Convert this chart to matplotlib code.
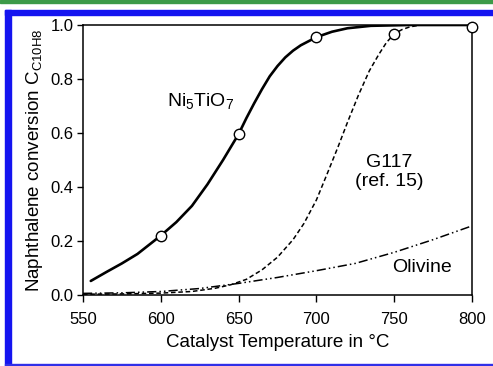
import matplotlib
matplotlib.use("Agg")
import matplotlib.pyplot as plt
from matplotlib.patches import Rectangle

plt.rcParams['font.family'] = ['Liberation Sans', 'DejaVu Sans']
plt.rcParams['mathtext.fontset'] = 'custom'
plt.rcParams['mathtext.rm'] = 'Liberation Sans'
plt.rcParams['mathtext.it'] = 'Liberation Sans'

# Ni5TiO7 curve
ni_T = [555, 565, 575, 585, 600, 610, 620, 630, 640, 650, 655, 660, 665, 670, 675, 680, 685, 690,
        700, 710, 720, 735, 760, 800]
ni_v = [0.052, 0.085, 0.117, 0.152, 0.220, 0.270, 0.330, 0.410, 0.500, 0.596, 0.655, 0.710, 0.762,
        0.810, 0.848, 0.880, 0.905, 0.925, 0.955, 0.975, 0.988, 0.997, 1.0, 1.0]

# G117 (ref. 15) curve
g_T = [550, 575, 600, 620, 635, 645, 655, 665, 675, 685, 692, 700, 707, 714, 720, 727, 734, 740, 745, 750,
       755, 760, 767, 800]
g_v = [0.003, 0.004, 0.007, 0.013, 0.025, 0.038, 0.058, 0.093, 0.140, 0.205, 0.265, 0.352, 0.450, 0.550,
       0.640, 0.740, 0.830, 0.890, 0.935, 0.967, 0.983, 0.993, 1.0, 1.0]

# Olivine curve
ol_T = [550, 575, 600, 625, 650, 675, 700, 725, 750, 775, 800]
ol_v = [0.006, 0.008, 0.013, 0.024, 0.043, 0.065, 0.090, 0.117, 0.158, 0.205, 0.256]

# measured points (markers)
mk_T = [600, 650, 700, 750, 800]
mk_v = [0.22, 0.596, 0.955, 0.967, 0.993]

x_ticks = [550, 600, 650, 700, 750, 800]
y_ticks = [0.0, 0.2, 0.4, 0.6, 0.8, 1.0]

fig = plt.figure(figsize=(4.93, 3.66), dpi=100)
W, H = 493, 366

# decorations (page frame)
def px_rect(x0, y0, x1, y1, color):
    fig.patches.append(Rectangle((x0 / W, 1 - y1 / H), (x1 - x0) / W, (y1 - y0) / H,
                                 transform=fig.transFigure, color=color, zorder=0))
px_rect(0, 0, 493, 2.5, '#3c9a48')
px_rect(5, 10, 493, 15, '#1414f0')
px_rect(5, 10, 10.7, 366, '#1414f0')
px_rect(5, 363.5, 493, 365, '#3030e8')

ax = fig.add_axes([83 / W, 1 - 295 / H, (472 - 83) / W, (295 - 25) / H])

ax.plot(ni_T, ni_v, color='black', lw=1.9, solid_capstyle='round', solid_joinstyle='round')
ax.plot(g_T, g_v, color='black', lw=1.1, dashes=(3, 1.8))
ax.plot(ol_T, ol_v, color='black', lw=1.1, dashes=(6, 2, 1, 2, 1, 2))
ax.plot(mk_T, mk_v, linestyle='none', marker='o', ms=7.5, mfc='white', mec='black',
        mew=1.0, clip_on=False, zorder=5)

ax.set_xlim(550, 800)
ax.set_ylim(0, 1.0)
ax.set_xticks(x_ticks)
ax.set_yticks(y_ticks)
ax.set_yticklabels([f'{v:.1f}' for v in y_ticks])
ax.tick_params(axis='x', direction='out', length=5, width=1.0, pad=7, labelsize=12)
ax.tick_params(axis='y', direction='out', length=4, width=1.0, pad=3, labelsize=12)
for s in ax.spines.values():
    s.set_linewidth(1.1)

ax.set_xlabel('Catalyst Temperature in °C', fontsize=13.5, labelpad=5)
ax.set_ylabel(r'Naphthalene conversion C$_{\mathregular{C10H8}}$', fontsize=13.5, labelpad=4)

ax.text(625.8, 0.719, r'Ni$_{5}$TiO$_{7}$', fontsize=14, ha='center', va='center')
ax.text(746.7, 0.456, 'G117\n(ref. 15)', fontsize=14, ha='center', va='center', linespacing=1.1)
ax.text(767.9, 0.100, 'Olivine', fontsize=14, ha='center', va='center')

fig.savefig('out.png', dpi=100)
